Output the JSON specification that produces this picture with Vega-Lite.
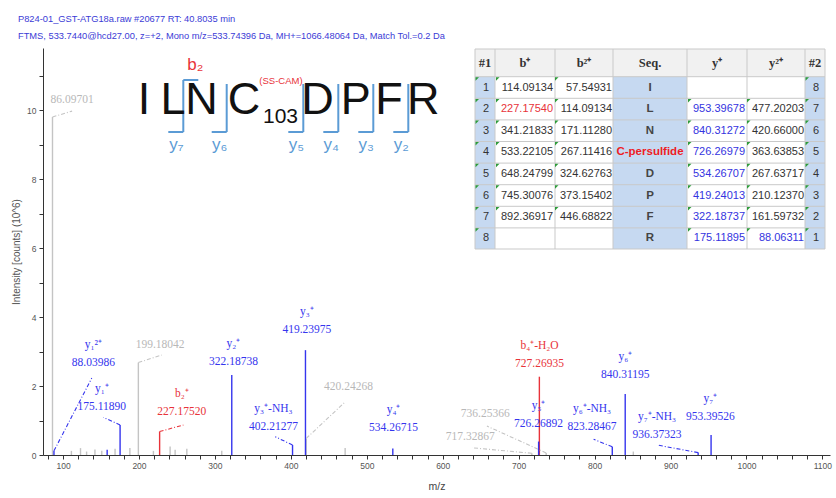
{
"$schema":"https://vega.github.io/schema/vega-lite/v6.json",
"width":787,"height":407,
"autosize":{"type":"none"},
"padding":{"left":43,"top":48,"right":6,"bottom":43},
"background":"white",
"config":{"view":{"stroke":null}},
"title":{"text":["P824-01_GST-ATG18a.raw  #20677  RT: 40.8035 min","FTMS, 533.7440@hcd27.00, z=+2, Mono m/z=533.74396 Da, MH+=1066.48064 Da, Match Tol.=0.2 Da"],"anchor":"start","frame":"group","orient":"top","font":"Liberation Sans","fontSize":9.3,"fontWeight":"normal","color":"#3b3bd6","lineHeight":17,"baseline":"alphabetic","offset":0,"dx":-25},
"datasets":{
"peaks":[
{"mz":86.097,"inten":9.8,"cls":"u"},{"mz":111,"inten":0.12,"cls":"u"},{"mz":123,"inten":0.2,"cls":"u"},{"mz":131,"inten":0.1,"cls":"u"},{"mz":142,"inten":0.16,"cls":"u"},{"mz":151,"inten":0.12,"cls":"u"},{"mz":168.5,"inten":0.18,"cls":"u"},{"mz":188,"inten":0.2,"cls":"u"},{"mz":199.18,"inten":2.68,"cls":"u"},{"mz":219,"inten":0.12,"cls":"u"},{"mz":241,"inten":0.25,"cls":"u"},{"mz":247.6,"inten":0.15,"cls":"u"},{"mz":263,"inten":0.18,"cls":"u"},{"mz":309,"inten":0.12,"cls":"u"},{"mz":420.24,"inten":0.48,"cls":"u"},{"mz":471.5,"inten":0.2,"cls":"u"},{"mz":717.33,"inten":0.05,"cls":"u"},{"mz":736.25,"inten":0.06,"cls":"u"},{"mz":851,"inten":0.1,"cls":"u"},
{"mz":227.175,"inten":0.68,"cls":"b"},{"mz":727.269,"inten":2.27,"cls":"b"},
{"mz":88.04,"inten":0.12,"cls":"y"},{"mz":158.09,"inten":0.15,"cls":"y"},{"mz":175.119,"inten":0.87,"cls":"y"},{"mz":322.187,"inten":2.32,"cls":"y"},{"mz":402.213,"inten":0.29,"cls":"y"},{"mz":419.24,"inten":3.04,"cls":"y"},{"mz":534.267,"inten":0.19,"cls":"y"},{"mz":726.269,"inten":0.39,"cls":"y"},{"mz":823.285,"inten":0.24,"cls":"y"},{"mz":840.312,"inten":1.77,"cls":"y"},{"mz":936.373,"inten":0.07,"cls":"y"},{"mz":953.395,"inten":0.58,"cls":"y"}
],
"labels":[
{"ion":"","lbl":"86.09701","cls":"u","lx":111.9,"ly":10.29},
{"ion":"y₁²⁺","lbl":"88.03986","cls":"y","lx":139.9,"ly":2.66},
{"ion":"y₁⁺","lbl":"175.11890","cls":"y","lx":151.0,"ly":1.40},
{"ion":"","lbl":"199.18042","cls":"u","lx":227.8,"ly":3.19},
{"ion":"b₂⁺","lbl":"227.17520","cls":"b","lx":256.4,"ly":1.26},
{"ion":"y₂⁺","lbl":"322.18738","cls":"y","lx":324.4,"ly":2.70},
{"ion":"y₃⁺-NH₃","lbl":"402.21277","cls":"y","lx":377.1,"ly":0.82},
{"ion":"y₃⁺","lbl":"419.23975","cls":"y","lx":421.1,"ly":3.62},
{"ion":"","lbl":"420.24268","cls":"u","lx":475.9,"ly":1.98},
{"ion":"y₄⁺","lbl":"534.26715","cls":"y","lx":535.2,"ly":0.77},
{"ion":"","lbl":"717.32867","cls":"u","lx":636.2,"ly":0.51},
{"ion":"","lbl":"736.25366","cls":"u","lx":656.0,"ly":1.18},
{"ion":"y₅⁺","lbl":"726.26892","cls":"y","lx":726.2,"ly":0.90},
{"ion":"b₄⁺-H₂O","lbl":"727.26935","cls":"b","lx":727.5,"ly":2.63},
{"ion":"y₆⁺-NH₃","lbl":"823.28467","cls":"y","lx":796.6,"ly":0.80},
{"ion":"y₆⁺","lbl":"840.31195","cls":"y","lx":840.4,"ly":2.32},
{"ion":"y₇⁺-NH₃","lbl":"936.37323","cls":"y","lx":882.2,"ly":0.58},
{"ion":"y₇⁺","lbl":"953.39526","cls":"y","lx":952.4,"ly":1.11}
],
"leaders":[
{"mz":86.097,"inten":9.8,"ex":111.9,"ey":9.97,"cls":"u"},
{"mz":88.04,"inten":0.12,"ex":137.8,"ey":2.23,"cls":"y"},
{"mz":175.119,"inten":0.87,"ex":153.1,"ey":1.09,"cls":"y"},
{"mz":199.18,"inten":2.68,"ex":230.0,"ey":2.9,"cls":"u"},
{"mz":227.175,"inten":0.68,"ex":258.5,"ey":0.87,"cls":"b"},
{"mz":402.213,"inten":0.29,"ex":379.4,"ey":0.53,"cls":"y"},
{"mz":420.24,"inten":0.48,"ex":471.5,"ey":1.54,"cls":"u"},
{"mz":717.33,"inten":0.05,"ex":638.5,"ey":0.21,"cls":"u"},
{"mz":736.25,"inten":0.06,"ex":658.2,"ey":0.84,"cls":"u"},
{"mz":823.285,"inten":0.24,"ex":798.7,"ey":0.455,"cls":"y"},
{"mz":936.373,"inten":0.07,"ex":882.2,"ey":0.29,"cls":"y"}
],
"cells":[
{"r":0,"c":0,"t":"#1","k":"hdr","h":"n"},{"r":0,"c":1,"t":"b⁺","k":"hdr","h":"n"},{"r":0,"c":2,"t":"b²⁺","k":"hdr","h":"n"},{"r":0,"c":3,"t":"Seq.","k":"hdr","h":"n"},{"r":0,"c":4,"t":"y⁺","k":"hdr","h":"n"},{"r":0,"c":5,"t":"y²⁺","k":"hdr","h":"n"},{"r":0,"c":6,"t":"#2","k":"hdr","h":"n"},
{"r":1,"c":0,"t":"1","k":"idx","h":"n"},{"r":1,"c":1,"t":"114.09134","k":"val","h":"n"},{"r":1,"c":2,"t":"57.54931","k":"val","h":"n"},{"r":1,"c":3,"t":"I","k":"seq","h":"n"},{"r":1,"c":6,"t":"8","k":"idx","h":"n"},
{"r":2,"c":0,"t":"2","k":"idx","h":"n"},{"r":2,"c":1,"t":"227.17540","k":"val","h":"b"},{"r":2,"c":2,"t":"114.09134","k":"val","h":"n"},{"r":2,"c":3,"t":"L","k":"seq","h":"n"},{"r":2,"c":4,"t":"953.39678","k":"val","h":"y"},{"r":2,"c":5,"t":"477.20203","k":"val","h":"n"},{"r":2,"c":6,"t":"7","k":"idx","h":"n"},
{"r":3,"c":0,"t":"3","k":"idx","h":"n"},{"r":3,"c":1,"t":"341.21833","k":"val","h":"n"},{"r":3,"c":2,"t":"171.11280","k":"val","h":"n"},{"r":3,"c":3,"t":"N","k":"seq","h":"n"},{"r":3,"c":4,"t":"840.31272","k":"val","h":"y"},{"r":3,"c":5,"t":"420.66000","k":"val","h":"n"},{"r":3,"c":6,"t":"6","k":"idx","h":"n"},
{"r":4,"c":0,"t":"4","k":"idx","h":"n"},{"r":4,"c":1,"t":"533.22105","k":"val","h":"n"},{"r":4,"c":2,"t":"267.11416","k":"val","h":"n"},{"r":4,"c":3,"t":"C-persulfide","k":"seq","h":"mod"},{"r":4,"c":4,"t":"726.26979","k":"val","h":"y"},{"r":4,"c":5,"t":"363.63853","k":"val","h":"n"},{"r":4,"c":6,"t":"5","k":"idx","h":"n"},
{"r":5,"c":0,"t":"5","k":"idx","h":"n"},{"r":5,"c":1,"t":"648.24799","k":"val","h":"n"},{"r":5,"c":2,"t":"324.62763","k":"val","h":"n"},{"r":5,"c":3,"t":"D","k":"seq","h":"n"},{"r":5,"c":4,"t":"534.26707","k":"val","h":"y"},{"r":5,"c":5,"t":"267.63717","k":"val","h":"n"},{"r":5,"c":6,"t":"4","k":"idx","h":"n"},
{"r":6,"c":0,"t":"6","k":"idx","h":"n"},{"r":6,"c":1,"t":"745.30076","k":"val","h":"n"},{"r":6,"c":2,"t":"373.15402","k":"val","h":"n"},{"r":6,"c":3,"t":"P","k":"seq","h":"n"},{"r":6,"c":4,"t":"419.24013","k":"val","h":"y"},{"r":6,"c":5,"t":"210.12370","k":"val","h":"n"},{"r":6,"c":6,"t":"3","k":"idx","h":"n"},
{"r":7,"c":0,"t":"7","k":"idx","h":"n"},{"r":7,"c":1,"t":"892.36917","k":"val","h":"n"},{"r":7,"c":2,"t":"446.68822","k":"val","h":"n"},{"r":7,"c":3,"t":"F","k":"seq","h":"n"},{"r":7,"c":4,"t":"322.18737","k":"val","h":"y"},{"r":7,"c":5,"t":"161.59732","k":"val","h":"n"},{"r":7,"c":6,"t":"2","k":"idx","h":"n"},
{"r":8,"c":0,"t":"8","k":"idx","h":"n"},{"r":8,"c":3,"t":"R","k":"seq","h":"n"},{"r":8,"c":4,"t":"175.11895","k":"val","h":"y"},{"r":8,"c":5,"t":"88.06311","k":"val","h":"y"},{"r":8,"c":6,"t":"1","k":"idx","h":"n"}
],
"blocks":[
{"k":"hdr","c0":-0.5,"c1":6.5,"r0":-0.5,"r1":0.5},
{"k":"idx","c0":-0.5,"c1":0.5,"r0":0.5,"r1":8.5},
{"k":"val","c0":0.5,"c1":2.5,"r0":0.5,"r1":8.5},
{"k":"seq","c0":2.5,"c1":3.5,"r0":0.5,"r1":8.5},
{"k":"val","c0":3.5,"c1":5.5,"r0":0.5,"r1":8.5},
{"k":"idx","c0":5.5,"c1":6.5,"r0":0.5,"r1":8.5}
],
"gridCols":[{"at":-0.5},{"at":0.5},{"at":1.5},{"at":2.5},{"at":3.5},{"at":4.5},{"at":5.5},{"at":6.5}],
"gridRows":[{"at":-0.5},{"at":0.5},{"at":1.5},{"at":2.5},{"at":3.5},{"at":4.5},{"at":5.5},{"at":6.5},{"at":7.5},{"at":8.5}],
"residues":[{"p":1,"aa":"I"},{"p":2,"aa":"L"},{"p":3,"aa":"N"},{"p":4,"aa":"C"},{"p":5,"aa":"D"},{"p":6,"aa":"P"},{"p":7,"aa":"F"},{"p":8,"aa":"R"}],
"brackets":[{"ion":"y₇","p":2.5,"series":"y"},{"ion":"y₆","p":3.5,"series":"y"},{"ion":"y₅","p":4.5,"series":"y"},{"ion":"y₄","p":5.5,"series":"y"},{"ion":"y₃","p":6.5,"series":"y"},{"ion":"y₂","p":7.5,"series":"y"},{"ion":"b₂","p":2.5,"series":"b"}],
"mods":[{"p":4,"site":"103","mod":"(SS-CAM)"}]
},
"layer":[
{"data":{"name":"peaks"},"mark":{"type":"rule","strokeWidth":1.4},
 "encoding":{
  "x":{"field":"mz","type":"quantitative","title":"m/z","scale":{"domain":[73.6,1110],"nice":false,"zero":false},
   "axis":{"tickCount":52,"labelExpr":"datum.value % 100 === 0 ? datum.label : ''","format":"d","labelOverlap":false,"labelFlush":false,"grid":false,"domainColor":"#333333","tickColor":"#333333","tickSize":4,"labelFont":"Liberation Sans","labelFontSize":8.5,"labelColor":"#555555","labelPadding":2,"titleFont":"Liberation Sans","titleFontSize":10.5,"titleFontWeight":"normal","titleColor":"#444444","titlePadding":12}},
  "y":{"field":"inten","type":"quantitative","title":"Intensity [counts] (10^6)","scale":{"domain":[0,11.8],"nice":false},
   "axis":{"tickCount":24,"format":"d","labelExpr":"datum.value % 2 === 0 ? datum.label : ''","labelOverlap":false,"labelFlush":false,"grid":false,"domainColor":"#333333","tickColor":"#333333","tickSize":4,"labelFont":"Liberation Sans","labelFontSize":8.5,"labelColor":"#555555","labelPadding":3,"titleFont":"Liberation Sans","titleFontSize":10,"titleFontWeight":"normal","titleColor":"#555555","titlePadding":5}},
  "y2":{"datum":0},
  "color":{"field":"cls","type":"nominal","scale":{"domain":["u","b","y"],"range":["#c4c4c4","#e8333a","#3535ee"]},"legend":null}}},
{"data":{"name":"leaders"},"mark":{"type":"rule","strokeWidth":1.1,"strokeDash":[4,2,1,2]},
 "encoding":{
  "x":{"field":"mz","type":"quantitative","scale":{"domain":[73.6,1110],"nice":false,"zero":false},"axis":null},
  "y":{"field":"inten","type":"quantitative","scale":{"domain":[0,11.8],"nice":false},"axis":null},
  "x2":{"field":"ex"},"y2":{"field":"ey"},
  "color":{"field":"cls","type":"nominal","scale":{"domain":["u","b","y"],"range":["#c4c4c4","#e8333a","#3535ee"]},"legend":null}}},
{"data":{"name":"labels"},"mark":{"type":"text","font":"Liberation Serif","fontSize":11.5,"baseline":"middle","align":"center"},
 "encoding":{
  "x":{"field":"lx","type":"quantitative","scale":{"domain":[73.6,1110],"nice":false,"zero":false},"axis":null},
  "y":{"field":"ly","type":"quantitative","scale":{"domain":[0,11.8],"nice":false},"axis":null},
  "text":{"field":"lbl"},
  "color":{"field":"cls","type":"nominal","scale":{"domain":["u","b","y"],"range":["#b8b8b8","#e8333a","#3535ee"]},"legend":null}}},
{"data":{"name":"labels"},"mark":{"type":"text","font":"Liberation Serif","fontSize":11.5,"baseline":"middle","align":"center","dy":-18},
 "encoding":{
  "x":{"field":"lx","type":"quantitative","scale":{"domain":[73.6,1110],"nice":false,"zero":false},"axis":null},
  "y":{"field":"ly","type":"quantitative","scale":{"domain":[0,11.8],"nice":false},"axis":null},
  "text":{"field":"ion"},
  "color":{"field":"cls","type":"nominal","scale":{"domain":["u","b","y"],"range":["#b8b8b8","#e8333a","#3535ee"]},"legend":null}}},
{"data":{"name":"blocks"},"mark":{"type":"rect"},
 "encoding":{
  "x":{"field":"c0","type":"quantitative","scale":{"domain":[-0.5,0.5,1.5,2.5,3.5,4.5,5.5,6.5],"range":[432,452,512,570,644,704,762,782],"nice":false,"zero":false},"axis":null},
  "x2":{"field":"c1"},
  "y":{"field":"r0","type":"quantitative","scale":{"domain":[-0.5,0.5,1.5,2.5,3.5,4.5,5.5,6.5,7.5,8.5],"range":[1,28.7,50.3,71.9,93.5,115.1,136.7,158.3,179.9,201],"nice":false,"zero":false},"axis":null},
  "y2":{"field":"r1"},
  "fill":{"field":"k","type":"nominal","scale":{"domain":["hdr","idx","seq","val"],"range":["#f1f1f1","#c6d9f1","#c6d9f1","#ffffff"]},"legend":null}}},
{"data":{"name":"gridCols"},"mark":{"type":"rule","color":"#c9c9c9","strokeWidth":1},
 "encoding":{
  "x":{"field":"at","type":"quantitative","scale":{"domain":[-0.5,0.5,1.5,2.5,3.5,4.5,5.5,6.5],"range":[432,452,512,570,644,704,762,782],"nice":false,"zero":false},"axis":null},
  "y":{"datum":-0.5,"type":"quantitative","scale":{"domain":[-0.5,0.5,1.5,2.5,3.5,4.5,5.5,6.5,7.5,8.5],"range":[1,28.7,50.3,71.9,93.5,115.1,136.7,158.3,179.9,201],"nice":false,"zero":false},"axis":null},
  "y2":{"datum":8.5}}},
{"data":{"name":"gridRows"},"mark":{"type":"rule","color":"#c9c9c9","strokeWidth":1},
 "encoding":{
  "y":{"field":"at","type":"quantitative","scale":{"domain":[-0.5,0.5,1.5,2.5,3.5,4.5,5.5,6.5,7.5,8.5],"range":[1,28.7,50.3,71.9,93.5,115.1,136.7,158.3,179.9,201],"nice":false,"zero":false},"axis":null},
  "x":{"datum":-0.5,"type":"quantitative","scale":{"domain":[-0.5,0.5,1.5,2.5,3.5,4.5,5.5,6.5],"range":[432,452,512,570,644,704,762,782],"nice":false,"zero":false},"axis":null},
  "x2":{"datum":6.5}}},
{"data":{"name":"cells"},"transform":[{"filter":"datum.k === 'idx'"}],"mark":{"type":"point","shape":"M0,0L1,0L0,1Z","size":49,"filled":true,"opacity":1,"color":"#2e9b3a","xOffset":-9.5,"yOffset":-10.2},
 "encoding":{
  "x":{"field":"c","type":"quantitative","scale":{"domain":[-0.5,0.5,1.5,2.5,3.5,4.5,5.5,6.5],"range":[432,452,512,570,644,704,762,782],"nice":false,"zero":false},"axis":null},
  "y":{"field":"r","type":"quantitative","scale":{"domain":[-0.5,0.5,1.5,2.5,3.5,4.5,5.5,6.5,7.5,8.5],"range":[1,28.7,50.3,71.9,93.5,115.1,136.7,158.3,179.9,201],"nice":false,"zero":false},"axis":null}}},
{"data":{"name":"cells"},"transform":[{"filter":"datum.k === 'val'"}],"mark":{"type":"point","shape":"M0,0L1,0L0,1Z","size":49,"filled":true,"opacity":1,"color":"#2e9b3a","xOffset":-29,"yOffset":-10.2},
 "encoding":{
  "x":{"field":"c","type":"quantitative","scale":{"domain":[-0.5,0.5,1.5,2.5,3.5,4.5,5.5,6.5],"range":[432,452,512,570,644,704,762,782],"nice":false,"zero":false},"axis":null},
  "y":{"field":"r","type":"quantitative","scale":{"domain":[-0.5,0.5,1.5,2.5,3.5,4.5,5.5,6.5,7.5,8.5],"range":[1,28.7,50.3,71.9,93.5,115.1,136.7,158.3,179.9,201],"nice":false,"zero":false},"axis":null}}},
{"data":{"name":"cells"},"transform":[{"filter":"datum.k === 'hdr'"}],"mark":{"type":"text","font":"Liberation Serif","fontWeight":"bold","fontSize":12.5,"align":"center","baseline":"middle"},
 "encoding":{
  "x":{"field":"c","type":"quantitative","scale":{"domain":[-0.5,0.5,1.5,2.5,3.5,4.5,5.5,6.5],"range":[432,452,512,570,644,704,762,782],"nice":false,"zero":false},"axis":null},
  "y":{"field":"r","type":"quantitative","scale":{"domain":[-0.5,0.5,1.5,2.5,3.5,4.5,5.5,6.5,7.5,8.5],"range":[1,28.7,50.3,71.9,93.5,115.1,136.7,158.3,179.9,201],"nice":false,"zero":false},"axis":null},
  "text":{"field":"t"},
  "color":{"field":"h","type":"nominal","scale":{"domain":["n","b","y","mod"],"range":["#333333","#e8333a","#3434e0","#ee1c24"]},"legend":null}}},
{"data":{"name":"cells"},"transform":[{"filter":"datum.k === 'idx'"}],"mark":{"type":"text","font":"Liberation Sans","fontSize":11,"align":"center","baseline":"middle","dx":1},
 "encoding":{
  "x":{"field":"c","type":"quantitative","scale":{"domain":[-0.5,0.5,1.5,2.5,3.5,4.5,5.5,6.5],"range":[432,452,512,570,644,704,762,782],"nice":false,"zero":false},"axis":null},
  "y":{"field":"r","type":"quantitative","scale":{"domain":[-0.5,0.5,1.5,2.5,3.5,4.5,5.5,6.5,7.5,8.5],"range":[1,28.7,50.3,71.9,93.5,115.1,136.7,158.3,179.9,201],"nice":false,"zero":false},"axis":null},
  "text":{"field":"t"},
  "color":{"field":"h","type":"nominal","scale":{"domain":["n","b","y","mod"],"range":["#333333","#e8333a","#3434e0","#ee1c24"]},"legend":null}}},
{"data":{"name":"cells"},"transform":[{"filter":"datum.k === 'val'"}],"mark":{"type":"text","font":"Liberation Sans","fontSize":11,"align":"right","baseline":"middle","dx":28},
 "encoding":{
  "x":{"field":"c","type":"quantitative","scale":{"domain":[-0.5,0.5,1.5,2.5,3.5,4.5,5.5,6.5],"range":[432,452,512,570,644,704,762,782],"nice":false,"zero":false},"axis":null},
  "y":{"field":"r","type":"quantitative","scale":{"domain":[-0.5,0.5,1.5,2.5,3.5,4.5,5.5,6.5,7.5,8.5],"range":[1,28.7,50.3,71.9,93.5,115.1,136.7,158.3,179.9,201],"nice":false,"zero":false},"axis":null},
  "text":{"field":"t"},
  "color":{"field":"h","type":"nominal","scale":{"domain":["n","b","y","mod"],"range":["#333333","#e8333a","#3434e0","#ee1c24"]},"legend":null}}},
{"data":{"name":"cells"},"transform":[{"filter":"datum.k === 'seq'"}],"mark":{"type":"text","font":"Liberation Sans","fontWeight":"bold","fontSize":11.5,"align":"center","baseline":"middle"},
 "encoding":{
  "x":{"field":"c","type":"quantitative","scale":{"domain":[-0.5,0.5,1.5,2.5,3.5,4.5,5.5,6.5],"range":[432,452,512,570,644,704,762,782],"nice":false,"zero":false},"axis":null},
  "y":{"field":"r","type":"quantitative","scale":{"domain":[-0.5,0.5,1.5,2.5,3.5,4.5,5.5,6.5,7.5,8.5],"range":[1,28.7,50.3,71.9,93.5,115.1,136.7,158.3,179.9,201],"nice":false,"zero":false},"axis":null},
  "text":{"field":"t"},
  "color":{"field":"h","type":"nominal","scale":{"domain":["n","b","y","mod"],"range":["#444444","#e8333a","#3434e0","#ee1c24"]},"legend":null}}},
{"data":{"name":"brackets"},"transform":[{"filter":"datum.series === 'y'"}],"mark":{"type":"rule","color":"#5b9bd5","strokeWidth":2},
 "encoding":{
  "x":{"field":"p","type":"quantitative","scale":{"domain":[1,2,2.5,3,3.5,4,4.5,5,5.5,6,6.5,7,7.5,8],"range":[101,130,140.3,158.5,183.7,201,260.3,274.5,295.3,312.7,330.3,346,365.3,380.3],"nice":false,"zero":false},"axis":null},
  "y":{"datum":2,"type":"quantitative","scale":{"domain":[0,1,2,3,4,5],"range":[17,32,36,66,84,97],"nice":false,"zero":false},"axis":null},
  "y2":{"datum":4}}},
{"data":{"name":"brackets"},"transform":[{"filter":"datum.series === 'y'"}],"mark":{"type":"rule","color":"#5b9bd5","strokeWidth":2,"x2Offset":-15},
 "encoding":{
  "x":{"field":"p","type":"quantitative","scale":{"domain":[1,2,2.5,3,3.5,4,4.5,5,5.5,6,6.5,7,7.5,8],"range":[101,130,140.3,158.5,183.7,201,260.3,274.5,295.3,312.7,330.3,346,365.3,380.3],"nice":false,"zero":false},"axis":null},
  "x2":{"field":"p"},
  "y":{"datum":4,"type":"quantitative","scale":{"domain":[0,1,2,3,4,5],"range":[17,32,36,66,84,97],"nice":false,"zero":false},"axis":null}}},
{"data":{"name":"brackets"},"transform":[{"filter":"datum.series === 'b'"}],"mark":{"type":"rule","color":"#5b9bd5","strokeWidth":2},
 "encoding":{
  "x":{"field":"p","type":"quantitative","scale":{"domain":[1,2,2.5,3,3.5,4,4.5,5,5.5,6,6.5,7,7.5,8],"range":[101,130,140.3,158.5,183.7,201,260.3,274.5,295.3,312.7,330.3,346,365.3,380.3],"nice":false,"zero":false},"axis":null},
  "y":{"datum":1,"type":"quantitative","scale":{"domain":[0,1,2,3,4,5],"range":[17,32,36,66,84,97],"nice":false,"zero":false},"axis":null},
  "y2":{"datum":2}}},
{"data":{"name":"brackets"},"transform":[{"filter":"datum.series === 'b'"}],"mark":{"type":"rule","color":"#5b9bd5","strokeWidth":2,"x2Offset":15},
 "encoding":{
  "x":{"field":"p","type":"quantitative","scale":{"domain":[1,2,2.5,3,3.5,4,4.5,5,5.5,6,6.5,7,7.5,8],"range":[101,130,140.3,158.5,183.7,201,260.3,274.5,295.3,312.7,330.3,346,365.3,380.3],"nice":false,"zero":false},"axis":null},
  "x2":{"field":"p"},
  "y":{"datum":1,"type":"quantitative","scale":{"domain":[0,1,2,3,4,5],"range":[17,32,36,66,84,97],"nice":false,"zero":false},"axis":null}}},
{"data":{"name":"brackets"},"transform":[{"filter":"datum.series === 'y'"}],"mark":{"type":"text","font":"Liberation Sans","fontSize":17,"color":"#5b9bd5","align":"center","baseline":"middle","dx":-7},
 "encoding":{
  "x":{"field":"p","type":"quantitative","scale":{"domain":[1,2,2.5,3,3.5,4,4.5,5,5.5,6,6.5,7,7.5,8],"range":[101,130,140.3,158.5,183.7,201,260.3,274.5,295.3,312.7,330.3,346,365.3,380.3],"nice":false,"zero":false},"axis":null},
  "y":{"datum":5,"type":"quantitative","scale":{"domain":[0,1,2,3,4,5],"range":[17,32,36,66,84,97],"nice":false,"zero":false},"axis":null},
  "text":{"field":"ion"}}},
{"data":{"name":"brackets"},"transform":[{"filter":"datum.series === 'b'"}],"mark":{"type":"text","font":"Liberation Sans","fontSize":17,"color":"#e8333a","align":"center","baseline":"middle","dx":12},
 "encoding":{
  "x":{"field":"p","type":"quantitative","scale":{"domain":[1,2,2.5,3,3.5,4,4.5,5,5.5,6,6.5,7,7.5,8],"range":[101,130,140.3,158.5,183.7,201,260.3,274.5,295.3,312.7,330.3,346,365.3,380.3],"nice":false,"zero":false},"axis":null},
  "y":{"datum":0,"type":"quantitative","scale":{"domain":[0,1,2,3,4,5],"range":[17,32,36,66,84,97],"nice":false,"zero":false},"axis":null},
  "text":{"field":"ion"}}},
{"data":{"name":"residues"},"mark":{"type":"text","font":"Liberation Sans","fontSize":45,"color":"#111111","align":"center","baseline":"alphabetic"},
 "encoding":{
  "x":{"field":"p","type":"quantitative","scale":{"domain":[1,2,2.5,3,3.5,4,4.5,5,5.5,6,6.5,7,7.5,8],"range":[101,130,140.3,158.5,183.7,201,260.3,274.5,295.3,312.7,330.3,346,365.3,380.3],"nice":false,"zero":false},"axis":null},
  "y":{"datum":3,"type":"quantitative","scale":{"domain":[0,1,2,3,4,5],"range":[17,32,36,66,84,97],"nice":false,"zero":false},"axis":null},
  "text":{"field":"aa"}}},
{"data":{"name":"mods"},"mark":{"type":"text","font":"Liberation Sans","fontSize":21,"color":"#111111","align":"left","baseline":"alphabetic","dx":19,"dy":9},
 "encoding":{
  "x":{"field":"p","type":"quantitative","scale":{"domain":[1,2,2.5,3,3.5,4,4.5,5,5.5,6,6.5,7,7.5,8],"range":[101,130,140.3,158.5,183.7,201,260.3,274.5,295.3,312.7,330.3,346,365.3,380.3],"nice":false,"zero":false},"axis":null},
  "y":{"datum":3,"type":"quantitative","scale":{"domain":[0,1,2,3,4,5],"range":[17,32,36,66,84,97],"nice":false,"zero":false},"axis":null},
  "text":{"field":"site"}}},
{"data":{"name":"mods"},"mark":{"type":"text","font":"Liberation Sans","fontSize":9.5,"color":"#e8333a","align":"center","baseline":"middle","dx":37,"dy":-33},
 "encoding":{
  "x":{"field":"p","type":"quantitative","scale":{"domain":[1,2,2.5,3,3.5,4,4.5,5,5.5,6,6.5,7,7.5,8],"range":[101,130,140.3,158.5,183.7,201,260.3,274.5,295.3,312.7,330.3,346,365.3,380.3],"nice":false,"zero":false},"axis":null},
  "y":{"datum":3,"type":"quantitative","scale":{"domain":[0,1,2,3,4,5],"range":[17,32,36,66,84,97],"nice":false,"zero":false},"axis":null},
  "text":{"field":"mod"}}}
],
"resolve":{"scale":{"x":"independent","y":"independent","color":"independent","fill":"independent"},"axis":{"x":"independent","y":"independent"}}
}
